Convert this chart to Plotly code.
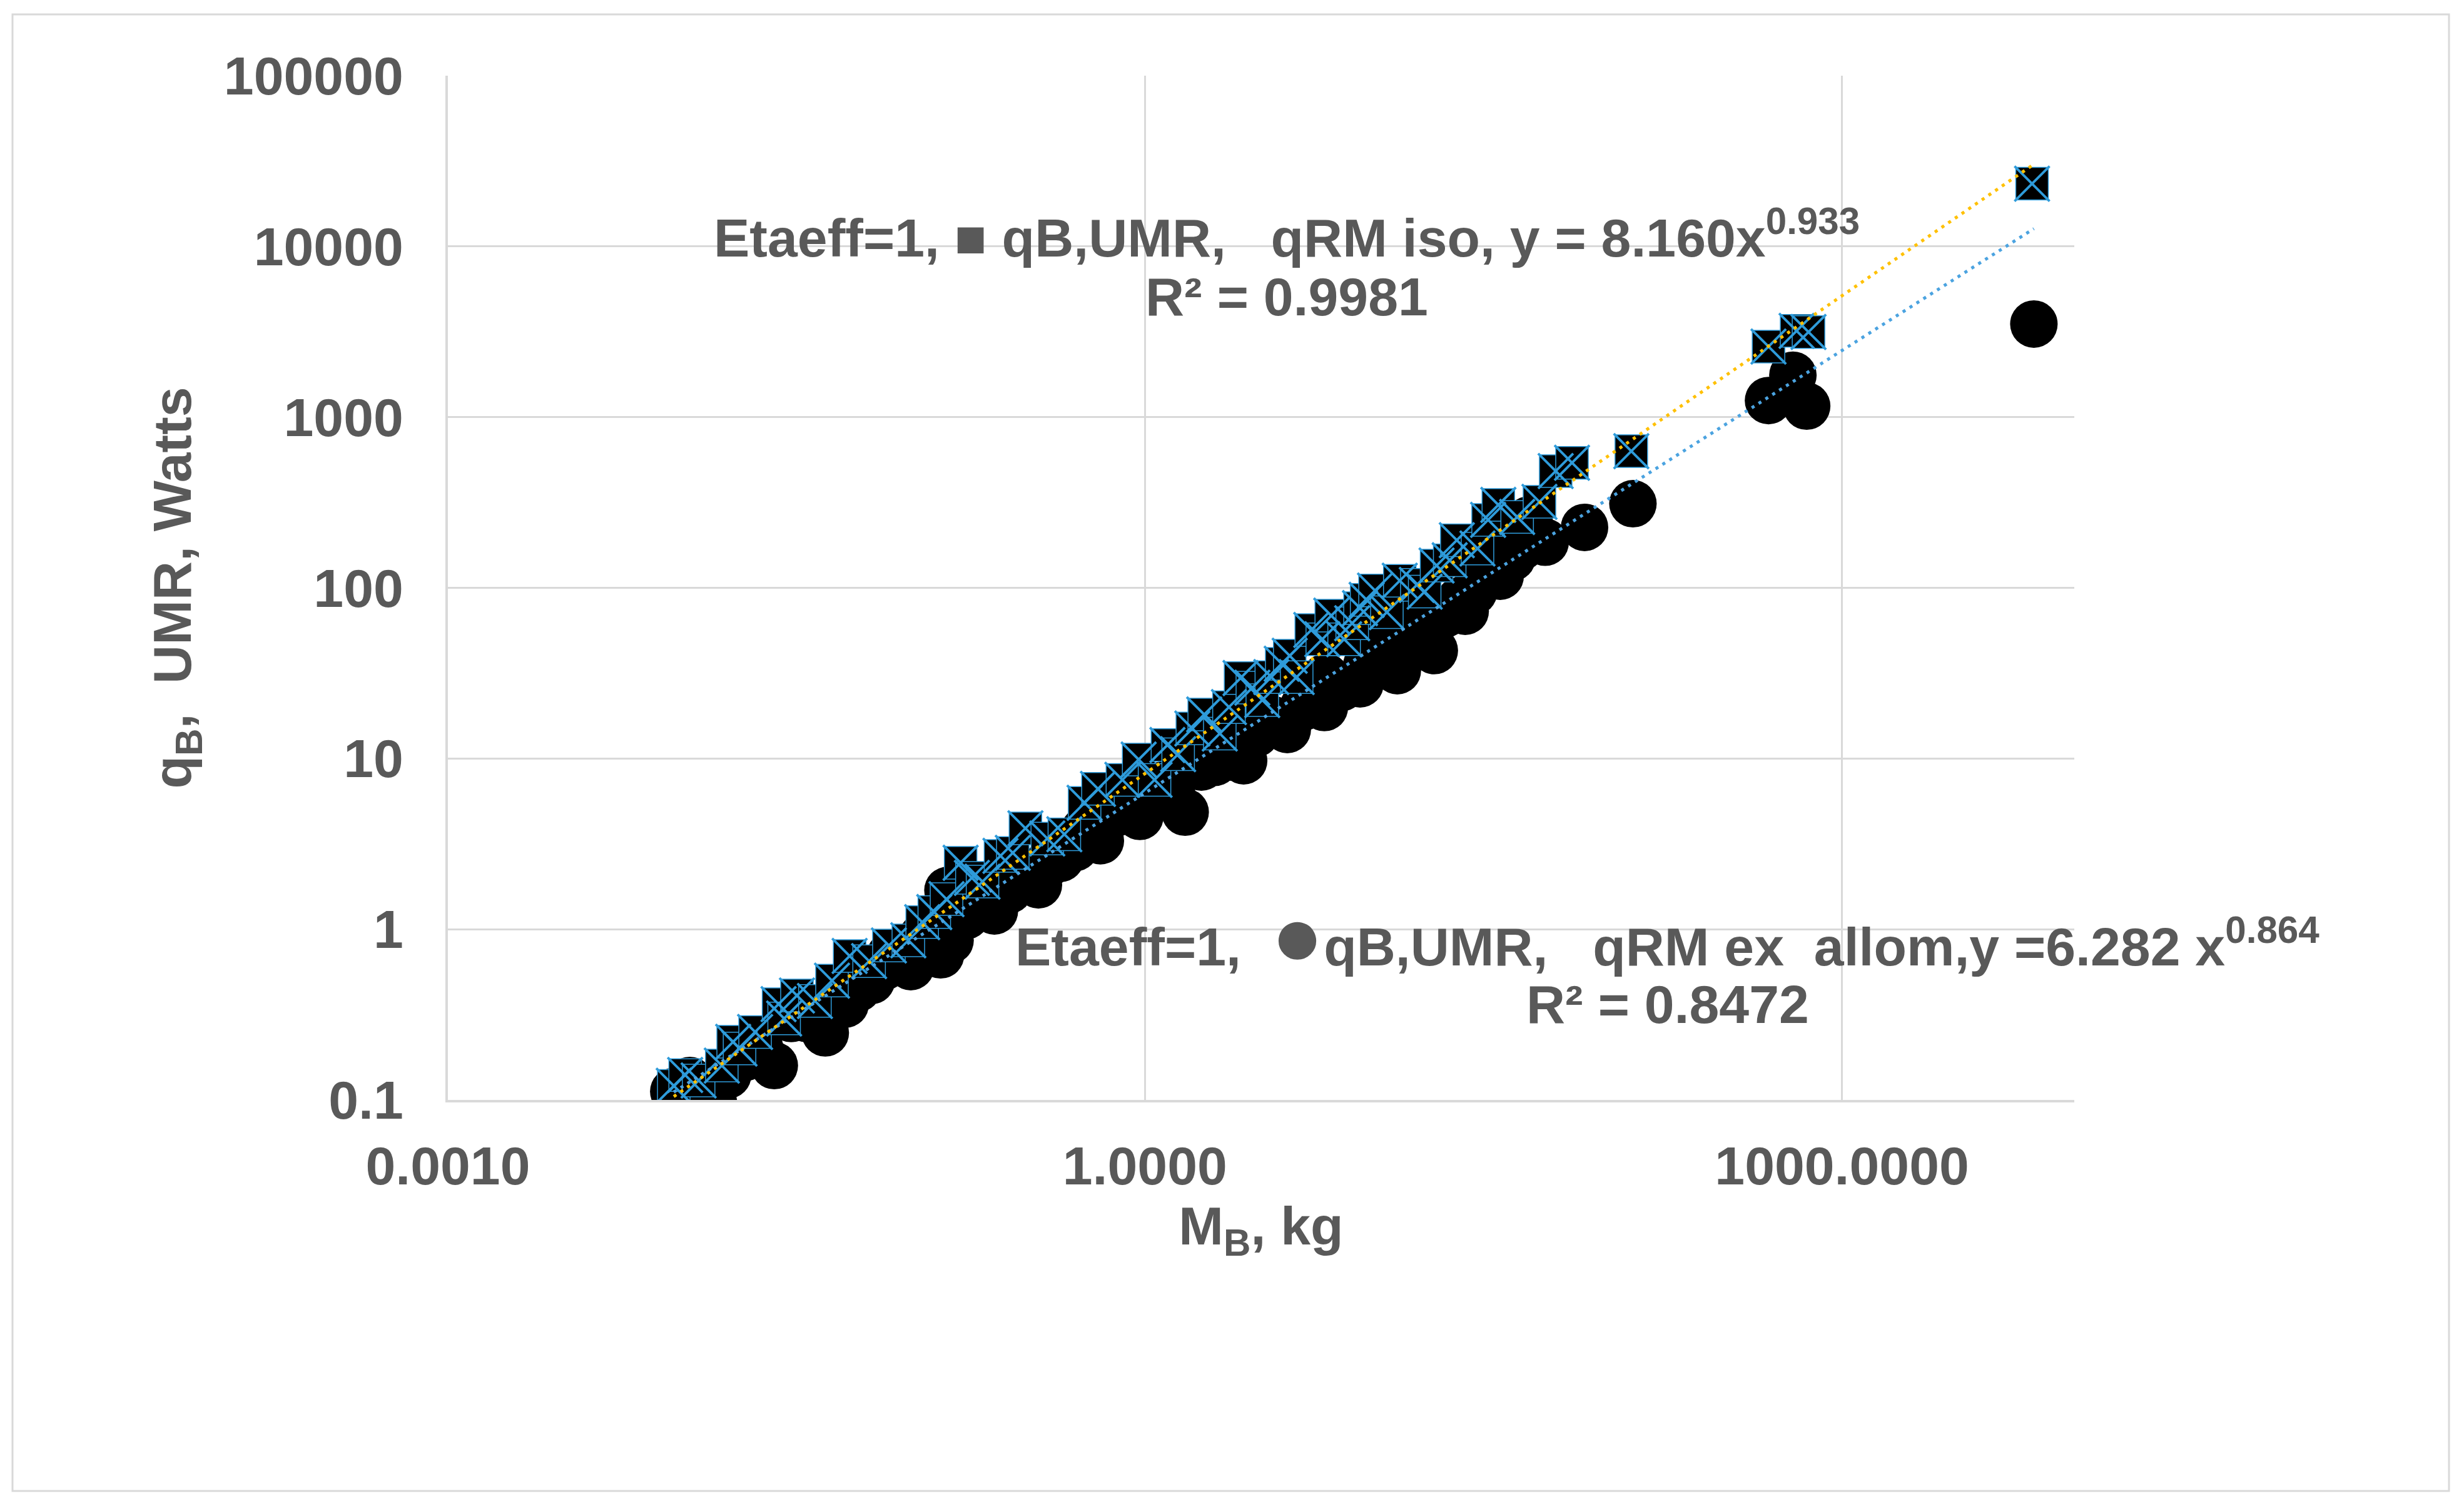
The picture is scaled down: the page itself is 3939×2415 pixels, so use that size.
import numpy as np
import plotly.graph_objects as go

# ---------------- data ----------------
# iso series (squares with blue x): body mass M_B [kg], q_B,UMR [W]
mass_iso = [0.00938, 0.0105, 0.012, 0.0151, 0.0169, 0.018, 0.021, 0.0265, 0.028, 0.0318,
            0.038, 0.045, 0.0536, 0.065, 0.0791, 0.0959, 0.11, 0.124, 0.14, 0.161,
            0.18, 0.2, 0.239, 0.27, 0.306, 0.38, 0.45, 0.55, 0.628, 0.8,
            0.94, 1.1, 1.25, 1.39, 1.6, 1.8, 2.1, 2.3, 2.58, 2.9,
            3.2, 3.5, 3.88, 4.2, 4.5, 5.2, 5.8, 6.34, 7.2, 7.8,
            8.43, 9.0, 9.78, 11.0, 12.5, 14.8, 16.0, 18.0, 20.5, 22.0,
            27.0, 30.0, 33.2, 40.0, 49.9, 58.6, 68.9, 124.0, 483.0, 638.0,
            718.0, 6580.0]
q_iso = [0.121, 0.14, 0.13, 0.159, 0.219, 0.2, 0.25, 0.364, 0.3, 0.409,
         0.38, 0.5, 0.697, 0.65, 0.803, 0.861, 1.1, 1.26, 1.5, 2.45,
         2.0, 1.9, 2.69, 2.8, 3.9, 3.4, 3.6, 5.5, 6.64, 7.5,
         9.86, 7.5, 12.0, 10.6, 15.0, 18.1, 14.0, 20.0, 29.6, 26.0,
         22.0, 30.0, 35.9, 40.0, 30.0, 56.6, 50.0, 68.7, 50.0, 62.0,
         76.0, 85.0, 96.4, 72.0, 110.0, 104.0, 95.0, 135.0, 145.0, 190.0,
         170.0, 250.0, 306.0, 260.0, 319.0, 483.0, 540.0, 632.0, 2590.0, 3200.0,
         3150.0, 23300.0]

# ex allom series (circles): body mass M_B [kg], q_B,UMR [W]
mass_ex = [0.00938, 0.011, 0.0139, 0.016, 0.0189, 0.022, 0.0254, 0.03, 0.035, 0.0421,
           0.0513, 0.058, 0.0665, 0.075, 0.08, 0.0982, 0.11, 0.132, 0.142, 0.145,
           0.17, 0.19, 0.225, 0.26, 0.3, 0.348, 0.38, 0.433, 0.5, 0.55,
           0.643, 0.75, 0.951, 1.05, 1.2, 1.3, 1.49, 1.75, 2.0, 2.32,
           2.66, 3.0, 3.5, 4.1, 4.8, 5.92, 6.0, 7.0, 8.43, 9.0,
           10.0, 12.2, 13.5, 15.0, 17.6, 19.5, 22.6, 23.9, 26.0, 28.0,
           33.8, 34.7, 38.0, 42.0, 45.0, 52.8, 78.0, 126.0, 483.0, 615.0,
           705.0, 6700.0]
q_ex = [0.112, 0.13, 0.0959, 0.14, 0.177, 0.2, 0.159, 0.3, 0.3, 0.247,
        0.364, 0.45, 0.501, 0.6, 0.7, 0.604, 0.9, 0.708, 1.69, 0.861,
        1.2, 1.5, 1.28, 1.7, 2.0, 1.82, 2.4, 2.6, 3.0, 3.8,
        3.3, 4.8, 4.58, 6.0, 7.0, 6.5, 4.85, 8.91, 9.5, 10.2,
        9.7, 14.0, 17.0, 14.8, 20.0, 19.9, 30.0, 26.0, 27.4, 35.0,
        45.0, 32.7, 50.0, 65.0, 42.9, 70.0, 84.1, 72.9, 95.0, 120.0,
        117.0, 218.0, 150.0, 175.0, 250.0, 185.0, 226.0, 311.0, 1250.0, 1760.0,
        1160.0, 3510.0]

# power-law trendlines shown on the chart: y = a * x^b, with R^2
fit_iso = (8.160, 0.933, 0.9981)
fit_ex = (6.282, 0.864, 0.8472)

x_tickvals = [0.001, 1, 1000]
x_ticktext = ["0.0010", "1.0000", "1000.0000"]
y_tickvals = [0.1, 1, 10, 100, 1000, 10000, 100000]
y_ticktext = ["0.1", "1", "10", "100", "1000", "10000", "100000"]

# ---------------- styling ----------------
W, H = 3939, 2415
OFF = 8                      # default body margin of the html page
FW, FH = W - 2 * OFF, H - 2 * OFF
L, R, T, B = 716, 3316, 121, 1758   # plot area in window pixels
FONT = "Liberation Sans, Arial, sans-serif"
TXT = "#595959"
GRID = "#d9d9d9"
BLUE_X = "#2E9BDA"
ORANGE = "#FFC000"
BLUE_FIT = "#4BA3E0"
FS = 86


def trend(xs, fit):
    a, b, _ = fit
    xx = np.logspace(np.log10(min(xs)), np.log10(max(xs)), 200)
    return xx, a * xx ** b


fig = go.Figure()

fig.add_trace(go.Scatter(
    x=mass_ex, y=q_ex, mode="markers", name="qB,UMR, qRM ex allom",
    marker=dict(symbol="circle", size=76, color="black", line=dict(width=0)),
))
fig.add_trace(go.Scatter(
    x=mass_iso, y=q_iso, mode="markers", name="qB,UMR, qRM iso",
    marker=dict(symbol="square", size=52, color="black", line=dict(width=1.5, color=BLUE_X)),
))
fig.add_trace(go.Scatter(
    x=mass_iso, y=q_iso, mode="markers", showlegend=False, hoverinfo="skip",
    marker=dict(symbol="x-thin", size=56, line=dict(width=4, color=BLUE_X)),
))

tx, ty = trend(mass_ex, fit_ex)
fig.add_trace(go.Scatter(x=tx, y=ty, mode="lines", hoverinfo="skip",
                         line=dict(color=BLUE_FIT, width=5, dash="5px,8px")))
tx, ty = trend(mass_iso, fit_iso)
fig.add_trace(go.Scatter(x=tx, y=ty, mode="lines", hoverinfo="skip",
                         line=dict(color=ORANGE, width=5, dash="5px,8px")))

pw, ph = R - L, B - T


def px_x(p):
    return (p - L) / pw


def px_y(p):
    return (B - p) / ph


nb = "\u00a0"
font_ann = dict(family=FONT, size=FS, color=TXT, weight="bold")
dot = '<span style="font-size:140px">\u25CF</span>'
anns = [
    (2057, 374, f"Etaeff=1,{nb}\u25A0{nb}qB,UMR,{nb*3}qRM iso,{nb}y{nb}={nb}{fit_iso[0]:.3f}x<sup>{fit_iso[1]:.3f}</sup>"),
    (2057, 474, f"R²{nb}={nb}{fit_iso[2]:.4f}"),
    (2665, 1494, f"Etaeff=1,{nb*2}{dot}qB,UMR,{nb*3}qRM ex{nb*2}allom,y{nb}={fit_ex[0]:.3f}{nb}x<sup>{fit_ex[1]:.3f}</sup>"),
    (2666, 1605, f"R²{nb}={nb}{fit_ex[2]:.4f}"),
]
annotations = [dict(x=px_x(ax), y=px_y(ay), xref="paper", yref="paper", text=t,
                    showarrow=False, xanchor="center", yanchor="middle", font=font_ann)
               for ax, ay, t in anns]

axis_font = dict(family=FONT, size=FS, color=TXT, weight="bold")

fig.update_layout(
    width=FW, height=FH,
    margin=dict(l=L - OFF, r=FW - (R - OFF), t=T - OFF, b=FH - (B - OFF), autoexpand=False),
    paper_bgcolor="white", plot_bgcolor="white",
    showlegend=False,
    font=dict(family=FONT, color=TXT),
    annotations=annotations,
    shapes=[dict(type="rect", xref="paper", yref="paper",
                 x0=px_x(20), x1=px_x(3915), y0=px_y(2383), y1=px_y(23),
                 line=dict(color=GRID, width=3), layer="below")],
    xaxis=dict(
        type="log", range=[-3, 4], tickvals=x_tickvals, ticktext=x_ticktext,
        showgrid=True, gridcolor=GRID, gridwidth=3,
        showline=True, linecolor=GRID, linewidth=4, zeroline=False,
        ticks="", tickfont=axis_font, ticklabelstandoff=28,
        title=dict(text="M<sub>B</sub>, kg", font=axis_font, standoff=10),
        automargin=False,
    ),
    yaxis=dict(
        type="log", range=[-1, 5], tickvals=y_tickvals, ticktext=y_ticktext,
        showgrid=True, gridcolor=GRID, gridwidth=3,
        showline=True, linecolor=GRID, linewidth=4, zeroline=False,
        ticks="", tickfont=axis_font, ticklabelstandoff=50,
        title=dict(text=f"q<sub>B</sub>,{nb*2}UMR,{nb}Watts", font=axis_font, standoff=25),
        automargin=False,
    ),
)

fig.write_html("out.html", config={"displayModeBar": False})
